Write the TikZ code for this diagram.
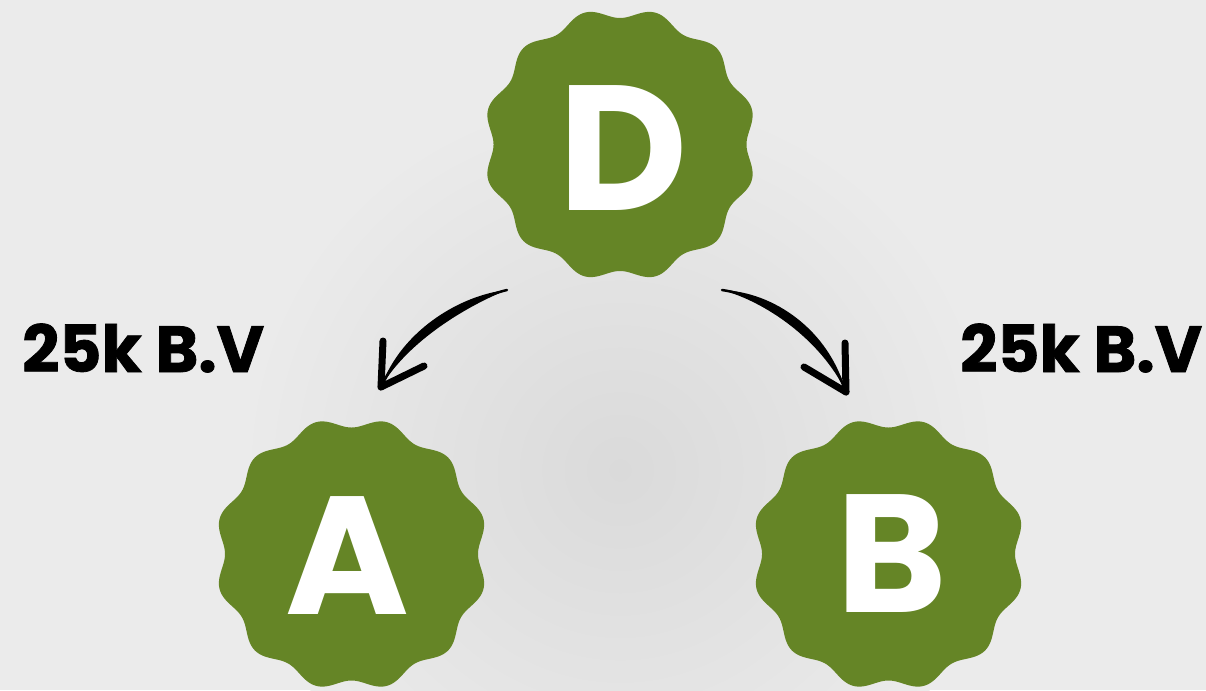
\documentclass[tikz,border=0pt]{standalone}
\usepackage{fontspec}
\setmainfont{Poppins}
\newfontfamily\heavy{Poppins}[FakeBold=1.2]
\usetikzlibrary{backgrounds}
\definecolor{badgegreen}{HTML}{658526}
\definecolor{bgray}{HTML}{EBEBEB}
\definecolor{bgdark}{HTML}{DADADA}
\tikzset{
  badge/.style={inner sep=0pt, text=white, font=\bfseries\fontsize{168}{168}\selectfont},
  lbl/.style={anchor=base west, inner sep=0pt, text=black, font=\heavy\bfseries\fontsize{65}{65}\selectfont},
  barb/.style={line width=7pt, line cap=round, black},
  shaft/.style={line width=2.5pt, line cap=round, black},
}
\begin{document}
\begin{tikzpicture}[x=1pt,y=-1pt]
\useasboundingbox (0,0) rectangle (1206,690);
% badges (text)
\node[badge, font=\bfseries\fontsize{178}{178}\selectfont] (D) at (623,148) {D};
\node[badge] (A) at (347,556) {A};
\node[badge] (B) at (892,554) {B};
% labels
\node[lbl] (LA) at (22,372) {25k B.V};
\node[lbl] (LB) at (960,372) {25k B.V};
% connector end points
\coordinate (tailL) at (507,290);
\coordinate (tipL) at (381,387);
\coordinate (tailR) at (722,290);
\coordinate (tipR) at (846,392);
\coordinate (bL1) at (383,341);
\coordinate (bL2) at (424,366);
\coordinate (bR1) at (845,343);
\coordinate (bR2) at (804,367);
% arrow D -> A
\fill (tailL) .. controls (461.5,294.8) and (401.5,329.8) .. (tipL)
      .. controls (408.5,340.2) and (468.5,305.2) .. (tailL);
\draw[shaft] (tailL) .. controls (465,300) and (405,335) .. (tipL);
\draw[barb] (tipL) -- (bL1);
\draw[barb] (tipL) -- (bL2);
% arrow D -> B
\fill (tailR) .. controls (766.0,302.0) and (821.0,340.0) .. (tipR)
      .. controls (829.0,330.0) and (774.0,292.0) .. (tailR);
\draw[shaft] (tailR) .. controls (770,297) and (825,335) .. (tipR);
\draw[barb] (tipR) -- (bR1);
\draw[barb] (tipR) -- (bR2);
\begin{scope}[on background layer]
  \fill[bgray] (0,0) rectangle (1206,690);
  \shade[inner color=bgdark, outer color=bgray] (620,470) circle (380);
  \foreach \c/\cx/\cy in {D/620/144.5, A/351.5/554, B/888.5/554}{
    \fill[badgegreen] plot[domain=0:360, samples=721]
      ({\cx+(131.5+5*cos(12*(\x-15)))*cos(\x)},
       {\cy+(131.5+5*cos(12*(\x-15)))*sin(\x)}) -- cycle;
  }
\end{scope}
\end{tikzpicture}
\end{document}
